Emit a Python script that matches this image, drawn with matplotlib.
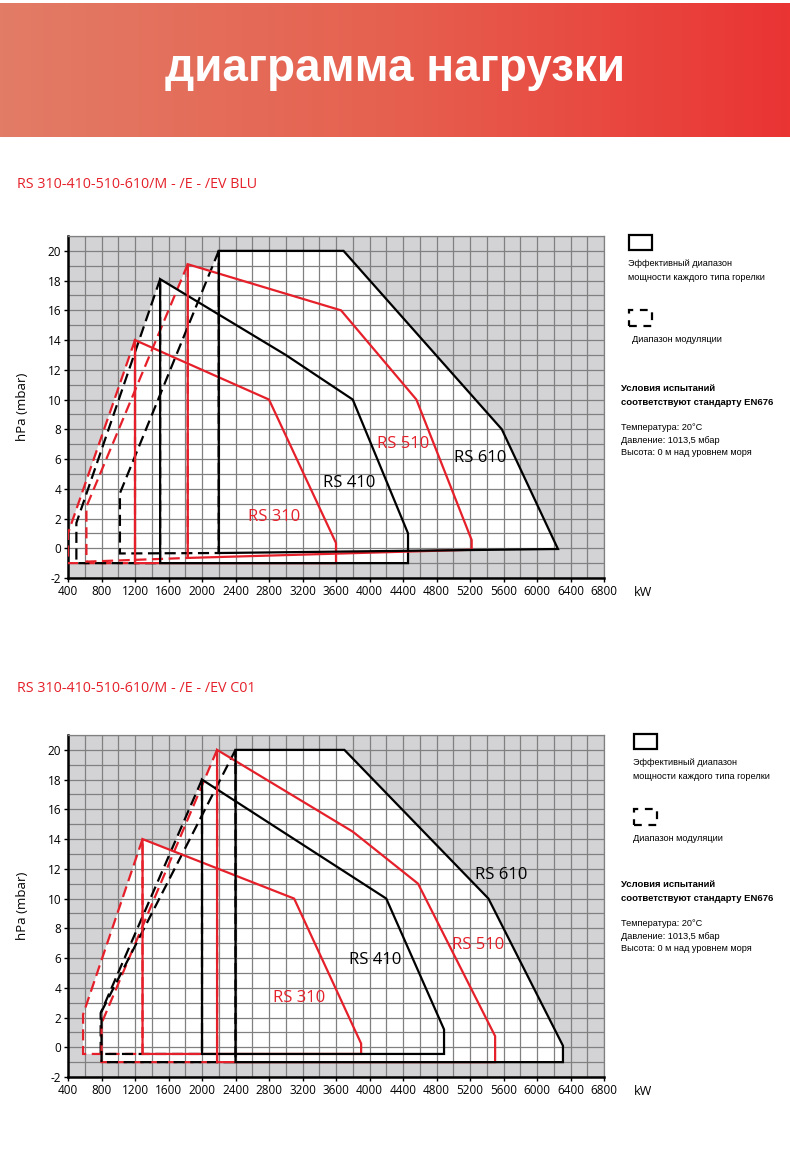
import numpy as np
import matplotlib
matplotlib.use("Agg")
import matplotlib.pyplot as plt
from matplotlib.colors import LinearSegmentedColormap
from matplotlib.patches import Rectangle, Polygon

plt.rcParams["font.family"] = ["Open Sans", "DejaVu Sans"]
plt.rcParams["axes.unicode_minus"] = False

RED = "#e5202a"
GRID = "#808080"
BG = "#d3d3d5"

# ---- data (kW, mbar) ----
x_ticks = list(range(400, 6801, 400))
y_ticks = list(range(-2, 21, 2))

# RS .../EV BLU
blu_rs310 = [(1200, -1), (1200, 14), (2800, 10), (3600, 0.35), (3600, -1)]
blu_rs310_mod = [(1200, 14), (400, 1), (400, -1), (1200, -1)]
blu_rs410 = [(1500, -1), (1500, 18.1), (3000, 13), (3800, 10), (4460, 1), (4460, -1)]
blu_rs410_mod = [(1500, 18.1), (500, 1.7), (500, -1), (1500, -1)]
blu_rs510 = [(1830, -0.65), (1830, 19.1), (3660, 16), (4560, 10), (5220, 0.55), (5220, -0.1)]
blu_rs510_mod = [(1830, 19.1), (620, 2.8), (620, -0.9), (1830, -0.65)]
blu_rs610 = [(2200, -0.32), (2200, 20), (3690, 20), (5580, 8), (6250, -0.05)]
blu_rs610_mod = [(2200, 20), (1020, 3.7), (1020, -0.35), (2200, -0.32)]
blu_labels = [("RS 310", 2860, 2.1), ("RS 410", 3760, 4.4),
              ("RS 510", 4400, 7.0), ("RS 610", 5320, 6.1)]

# RS .../EV C01
c01_rs310 = [(1290, -0.45), (1290, 14), (3100, 10), (3900, 0.25), (3900, -0.45)]
c01_rs310_mod = [(1290, 14), (580, 2.2), (580, -0.45), (1290, -0.45)]
c01_rs410 = [(2000, -0.45), (2000, 18), (4200, 10), (4890, 1.2), (4890, -0.45)]
c01_rs410_mod = [(2000, 18), (790, 2.3), (790, -0.45), (2000, -0.45)]
c01_rs510 = [(2180, -1), (2180, 20), (3800, 14.5), (4580, 11), (5500, 0.75), (5500, -1)]
c01_rs510_mod = [(2180, 20), (800, 1.6), (800, -1), (2180, -1)]
c01_rs610 = [(2400, -1), (2400, 20), (3700, 20), (5420, 10), (6310, 0.1), (6310, -1)]
c01_rs610_mod = [(2400, 20), (800, 2.4), (800, -1), (2400, -1)]
c01_labels = [("RS 310", 3160, 3.3), ("RS 410", 4070, 5.9),
              ("RS 510", 5300, 6.9), ("RS 610", 5570, 11.6)]

label_colours = [RED, "black", RED, "black"]


def draw_chart(ax, burners, labels, leg_dx):
    ax.set_facecolor(BG)
    ax.set_xlim(400, 6800)
    ax.set_ylim(-2, 21)
    ax.set_xticks(x_ticks)
    ax.set_xticks(np.arange(400, 6801, 200), minor=True)
    ax.set_yticks(y_ticks)
    ax.set_yticks(np.arange(-2, 22, 1), minor=True)
    ax.set_axisbelow("line")
    ax.grid(which="both", color=GRID, lw=0.9)
    ax.tick_params(which="minor", length=0)
    ax.tick_params(which="major", length=3, width=1, labelsize=8.5, pad=2)
    for s in ("left", "bottom"):
        ax.spines[s].set_linewidth(1.8)
    for s in ("top", "right"):
        ax.spines[s].set_color(GRID)
        ax.spines[s].set_linewidth(0.9)

    for solid, mod, colour in burners:
        for pts in (solid, mod):
            ax.add_patch(Polygon(pts, closed=True, facecolor="white",
                                 edgecolor="none", zorder=1))
    for solid, mod, colour in burners:
        ax.add_patch(Polygon(mod, closed=True, fill=False, edgecolor=colour,
                             lw=1.6, linestyle=(0, (5, 2.5)), zorder=3))
        ax.add_patch(Polygon(solid, closed=True, fill=False, edgecolor=colour,
                             lw=1.6, zorder=4, joinstyle="miter"))

    for (txt, x, y), c in zip(labels, label_colours):
        ax.text(x, y, txt, color=c, fontsize=12, ha="center", va="center",
                zorder=5)

    ax.text(-0.084, 0.5, "hPa (mbar)", rotation=90, transform=ax.transAxes,
            ha="center", va="center", fontsize=9.5)
    ax.text(1.073, -0.043, "kW", transform=ax.transAxes, ha="center",
            va="center", fontsize=9)

    # legend and test conditions on the right
    lf = ["Liberation Sans", "DejaVu Sans"]
    tr = ax.transAxes
    ax.add_patch(Rectangle((1.047 + leg_dx, 0.958), 0.043, 0.044,
                           transform=tr, fill=False, lw=1.6, clip_on=False))
    ax.add_patch(Rectangle((1.047 + leg_dx, 0.737), 0.043, 0.046,
                           transform=tr, fill=False, lw=1.6,
                           linestyle=(0, (3.5, 3)), clip_on=False))
    ax.text(1.045 + leg_dx, 0.920, "Эффективный диапазон", transform=tr,
            fontsize=6.6, va="center", family=lf)
    ax.text(1.045 + leg_dx, 0.880, "мощности каждого типа горелки",
            transform=tr, fontsize=6.6, va="center", family=lf)
    ax.text(1.052 + leg_dx * 0.3, 0.697, "Диапазон модуляции", transform=tr,
            fontsize=6.6, va="center", family=lf)
    ax.text(1.032, 0.553 + leg_dx, "Условия испытаний", transform=tr,
            fontsize=6.8, va="center", family=lf, fontweight="bold")
    ax.text(1.032, 0.513 + leg_dx, "соответствуют стандарту EN676",
            transform=tr, fontsize=6.8, va="center", family=lf,
            fontweight="bold")
    ax.text(1.032, 0.441 + leg_dx, "Температура: 20°C", transform=tr,
            fontsize=6.6, va="center", family=lf)
    ax.text(1.032, 0.403 + leg_dx, "Давление: 1013,5 мбар", transform=tr,
            fontsize=6.6, va="center", family=lf)
    ax.text(1.032, 0.367 + leg_dx, "Высота: 0 м над уровнем моря",
            transform=tr, fontsize=6.6, va="center", family=lf)


fig = plt.figure(figsize=(7.9, 11.5), dpi=100)

# banner
axb = fig.add_axes([0, 1 - 137 / 1150, 1, 134 / 1150])
cmap = LinearSegmentedColormap.from_list(
    "banner", ["#e27c66", "#e6604f", "#ea3434"])
axb.imshow(np.linspace(0, 1, 256)[None, :], cmap=cmap, aspect="auto")
axb.axis("off")
fig.text(0.5, 1 - 81 / 1150, "диаграмма нагрузки", ha="center",
         va="baseline", color="white", fontsize=33, fontweight="bold",
         family=["Liberation Sans Narrow", "Liberation Sans", "DejaVu Sans"])

fig.text(17 / 790, 1 - 185 / 1150, "RS 310-410-510-610/M - /E - /EV BLU",
         color=RED, fontsize=10.3, va="center")
fig.text(17 / 790, 1 - 688 / 1150, "RS 310-410-510-610/M - /E - /EV C01",
         color=RED, fontsize=10.3, va="center")

ax1 = fig.add_axes([68 / 790, 1 - 578 / 1150, 536 / 790, 342 / 1150])
draw_chart(ax1, [(blu_rs310, blu_rs310_mod, RED),
                 (blu_rs410, blu_rs410_mod, "black"),
                 (blu_rs510, blu_rs510_mod, RED),
                 (blu_rs610, blu_rs610_mod, "black")], blu_labels, 0.0)

ax2 = fig.add_axes([68 / 790, 1 - 1077 / 1150, 536 / 790, 342 / 1150])
draw_chart(ax2, [(c01_rs310, c01_rs310_mod, RED),
                 (c01_rs410, c01_rs410_mod, "black"),
                 (c01_rs510, c01_rs510_mod, RED),
                 (c01_rs610, c01_rs610_mod, "black")], c01_labels, 0.009)

fig.savefig("out.png", dpi=100)
